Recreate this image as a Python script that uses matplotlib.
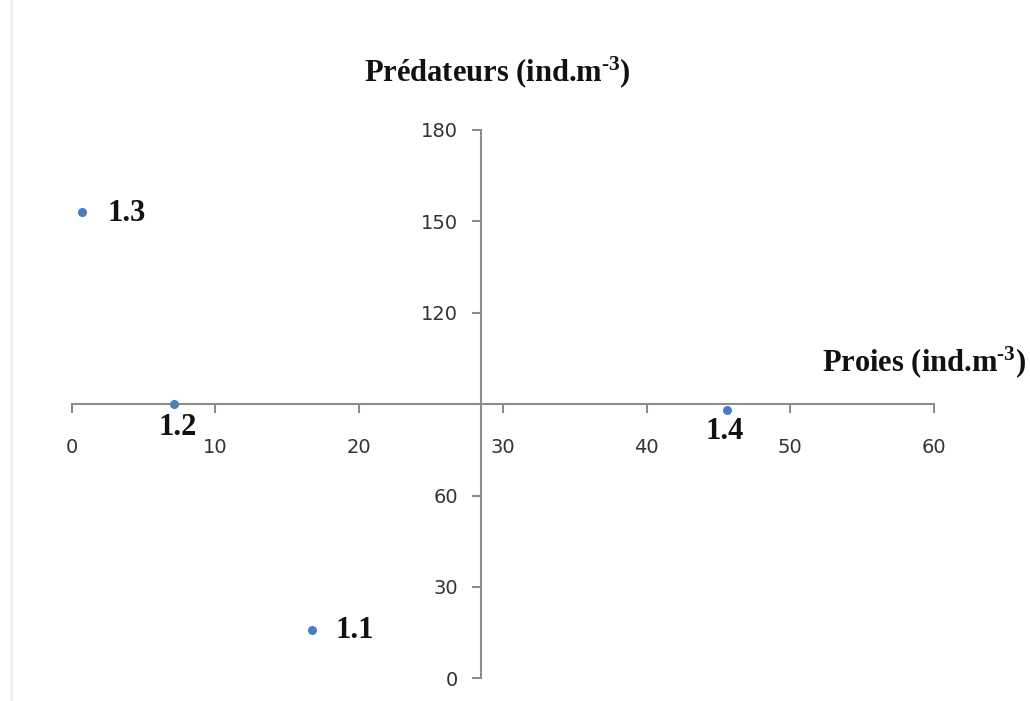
import matplotlib
matplotlib.use("Agg")
import matplotlib.pyplot as plt
from matplotlib.lines import Line2D

# Data
labels = ["1.1", "1.2", "1.3", "1.4"]
proies = [16.7, 7.1, 0.75, 45.6]
predateurs = [16.0, 90.0, 153.0, 88.0]
x_ticks = [0, 10, 20, 30, 40, 50, 60]
y_ticks = [0, 30, 60, 90, 120, 150, 180]
y_tick_labels = ["0", "30", "60", "", "120", "150", "180"]
x_cross = 28.5
y_cross = 90

plt.rcParams['mathtext.fontset'] = 'custom'
plt.rcParams['mathtext.rm'] = 'Liberation Serif:bold'
plt.rcParams['mathtext.it'] = 'Liberation Serif:bold'
plt.rcParams['mathtext.bf'] = 'Liberation Serif:bold'

fig = plt.figure(figsize=(10.30, 7.01), dpi=100)
ax = fig.add_axes([0.0696, 0.0324, 0.8372, 0.7822])
ax.set_xlim(0, 60)
ax.set_ylim(0, 180)

axis_color = "#8c8c8c"
ax.spines['left'].set_position(('data', x_cross))
ax.spines['bottom'].set_position(('data', y_cross))
ax.spines['top'].set_visible(False)
ax.spines['right'].set_visible(False)
for s in ('left', 'bottom'):
    ax.spines[s].set_color(axis_color)
    ax.spines[s].set_linewidth(1.5)

ax.set_xticks(x_ticks)
ax.set_xticklabels([str(v) for v in x_ticks])
ax.set_yticks(y_ticks)
ax.set_yticklabels(y_tick_labels)
ax.tick_params(axis='x', direction='out', length=6.5, width=1.5, color=axis_color,
               labelsize=14, labelcolor="#333333", pad=18)
ax.tick_params(axis='y', direction='out', length=6.5, width=1.5, color=axis_color,
               labelsize=14, labelcolor="#333333", pad=10)

ax.scatter(proies, predateurs, s=30, color="#4a7ebb", zorder=5, clip_on=False)

label_offsets = {"1.1": (17, -1, 'left', 'center'),
                 "1.2": (3, -17, 'center', 'center'),
                 "1.3": (18, -1, 'left', 'center'),
                 "1.4": (-2, -15, 'center', 'center')}
for lab, xv, yv in zip(labels, proies, predateurs):
    dx, dy, ha, va = label_offsets[lab]
    ax.annotate(lab, (xv, yv), xytext=(dx, dy), textcoords='offset points',
                ha=ha, va=va, fontsize=22, fontweight='bold',
                family='Liberation Serif', color='#111111')

fig.text(0.483, 0.897, r"Prédateurs (ind.m$^{\text{-}3}$)", ha='center', va='center',
         fontsize=22, fontweight='bold', family='Liberation Serif', color='#111111')
fig.text(0.897, 0.484, r"Proies (ind.m$^{\text{-}3}$)", ha='center', va='center',
         fontsize=22, fontweight='bold', family='Liberation Serif', color='#111111')

fig.add_artist(Line2D([0.011, 0.011], [0, 1], transform=fig.transFigure,
                      color="#f0f0f0", linewidth=2))

fig.savefig("out.png", dpi=100)
